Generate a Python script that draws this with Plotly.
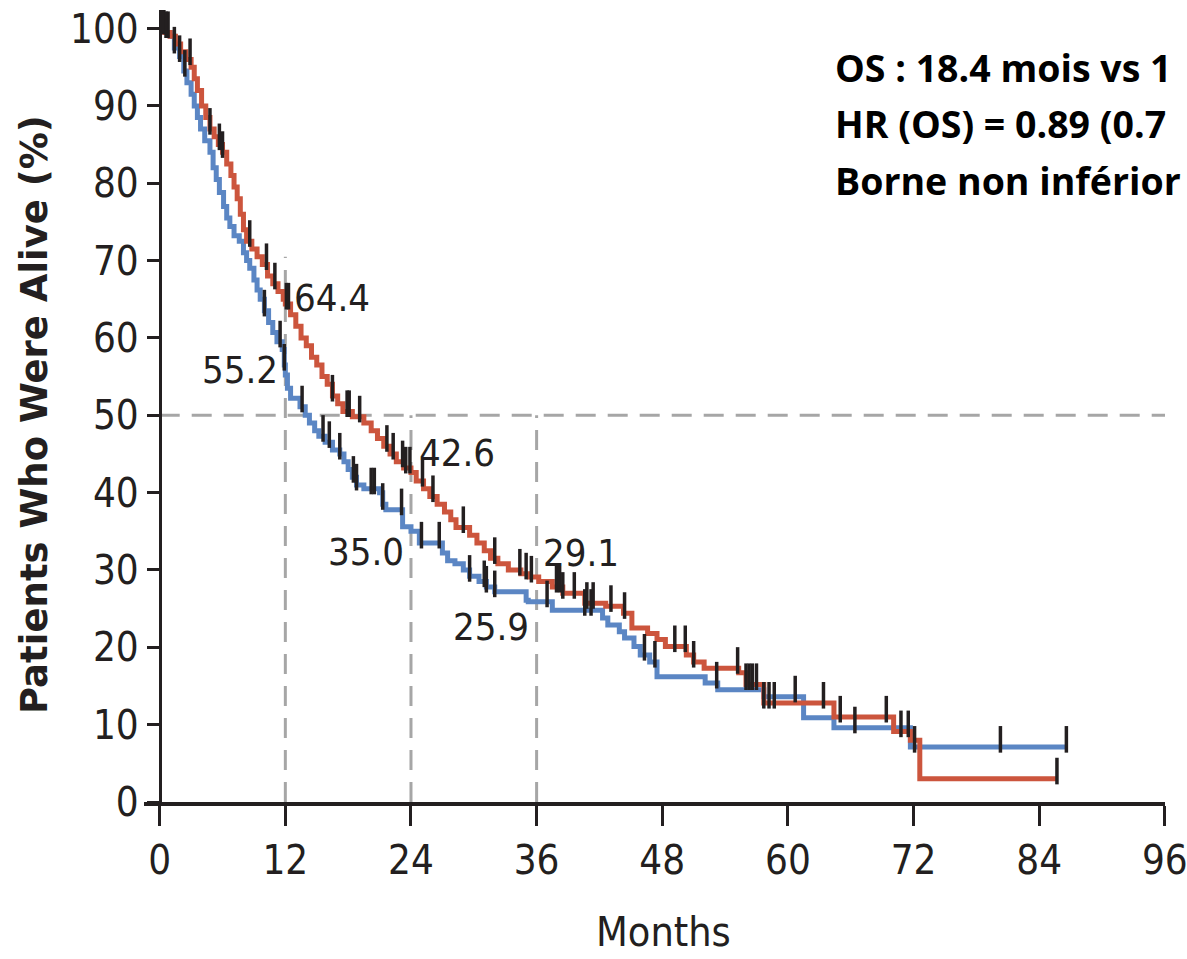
import numpy as np
import plotly.graph_objects as go

# ---------------- data ----------------
red_t = [0, 0.5, 1.0, 1.5, 2.0, 2.5, 3.0, 3.3, 3.6, 4.0, 4.4, 4.8, 5.2, 5.6, 6.0, 6.4, 6.8, 7.1, 7.4, 7.7,
         8.0, 8.3, 8.8, 9.3, 9.8, 10.3, 10.8, 11.3, 11.8, 12.0, 12.5, 13.0, 13.5, 14.0, 14.5, 15.0, 15.5,
         16.0, 16.5, 17.0, 17.5, 18.4, 19.5, 20.2, 20.8, 21.4, 22.0, 22.6, 23.3, 24.0, 24.5, 25.2, 25.8,
         26.5, 27.2, 27.8, 28.3, 29.6, 30.3, 31.0, 31.6, 32.3, 33.3, 34.5, 35.3, 36.2, 37.5, 38.5, 40.6,
         42.6, 44.3, 45.1, 46.6, 47.5, 48.3, 50.3, 51.0, 52.0, 55.3, 56.0, 57.7, 64.4, 70.1, 71.7, 72.6, 85.7]
red_s = [100, 99.5, 99, 98, 97, 96, 95, 93.5, 92, 90, 88.5, 87, 86, 85, 84, 82.5, 81, 79.5, 78, 76,
         74, 72.5, 71.5, 70.5, 69.5, 68, 67, 66, 65, 64.4, 63, 61.5, 60, 59, 57.5, 56.5, 55,
         54, 52.5, 51.5, 50.5, 49.8, 49, 48, 47, 46, 45, 44, 43.2, 42.6, 41.5, 40.5, 39.5,
         38.5, 37.5, 36.5, 35.5, 34.5, 33.5, 32.5, 31.5, 30.8, 30.0, 29.5, 29.1, 28.5, 27.8, 27.0, 25.7,
         25.3, 24.4, 22.5, 21.8, 21.0, 20.1, 19.0, 18.1, 17.3, 16.7, 15.2, 12.8, 11.0, 9.1, 8.0, 3.0, 3.0]

blue_t = [0, 0.5, 1.0, 1.4, 1.9, 2.3, 2.6, 3.0, 3.3, 3.6, 3.9, 4.3, 4.8, 5.1, 5.4, 5.7, 6.1, 6.4, 6.7, 7.1,
          7.6, 8.0, 8.3, 8.6, 9.0, 9.3, 9.6, 10.0, 10.4, 10.8, 11.2, 11.7, 11.9, 12.0, 12.2, 12.5, 13.4,
          13.9, 14.3, 14.8, 15.2, 15.8, 16.5, 17.2, 17.6, 18.0, 18.4, 18.8, 19.5, 21.0, 21.3, 21.6, 23.2,
          24.0, 24.8, 27.0, 27.5, 28.2, 29.0, 29.6, 30.5, 31.2, 32.0, 35.0, 35.2, 37.5, 42.3, 42.8, 43.9,
          44.4, 45.3, 45.9, 46.8, 47.5, 52.1, 53.3, 57.7, 61.5, 64.4, 71.7, 86.6]
blue_s = [100, 99.5, 99, 97.5, 96.4, 94.5, 93, 91.5, 90, 88.5, 87, 85.5, 84, 82, 80.5, 78.8, 77, 75.5, 74.4, 73.2,
          72.5, 71, 70, 69, 67.5, 66.2, 65, 63.5, 62, 60.7, 59.5, 58.5, 56.5, 55.2, 53.5, 52.2, 51.1,
          50, 49, 48, 47.3, 46.5, 45.5, 45, 44, 43, 42, 41, 40.5, 40, 38.5, 37.8, 35.6,
          35.0, 33.5, 32.2, 31.2, 30.8, 30.0, 29.2, 28.5, 27.8, 27.2, 26.1, 25.9, 24.8, 23.8, 22.9, 22.0,
          21.2, 20.1, 19.0, 18.1, 16.2, 15.4, 14.5, 13.6, 10.9, 9.6, 7.1, 7.1]

red_censor = [0.3, 0.6, 2.9, 4.8, 5.7, 6.0, 8.6, 10.2, 11.0, 12.1, 12.3, 16.5, 17.9, 18.1, 19.1, 21.7, 22.3,
              23.2, 23.5, 23.9, 25.1, 26.1, 29.0, 32.0, 34.4, 35.0, 35.5, 37.9, 38.2, 38.5, 39.6, 40.8, 41.4,
              43.1, 44.4, 49.2, 50.2, 51.0, 55.2, 56.0, 56.3, 56.6, 57.0, 57.7, 58.2, 58.7, 63.4, 65.0, 69.4,
              70.8, 71.5, 85.7]
blue_censor = [0.1, 0.4, 0.8, 1.4, 1.9, 2.4, 10.0, 11.5, 11.9, 13.6, 15.6, 16.2, 17.2, 18.5, 18.8, 20.2, 20.5,
               21.3, 23.1, 25.0, 26.7, 29.6, 31.0, 31.2, 32.0, 37.0, 40.6, 41.2, 46.3, 47.3, 53.2, 60.7, 66.4,
               72.1, 80.3, 86.6]

landmark_months = [12, 24, 36]
landmark_tops = [70.5, 50, 50]
median_level = 50

# label text, anchor month, anchor level
label_text = ["64.4", "55.2", "42.6", "35.0", "29.1", "25.9"]
label_x = [12.6, 11.5, 24.6, 23.5, 36.4, 35.5]
label_y = [65.2, 55.9, 45.1, 32.3, 32.2, 22.6]
label_anchor = ["left", "right", "left", "right", "left", "right"]

x_ticks = [0, 12, 24, 36, 48, 60, 72, 84, 96]
y_ticks = [0, 10, 20, 30, 40, 50, 60, 70, 80, 90, 100]

info_lines = ["OS : 18.4 mois vs 1", "HR (OS) = 0.89 (0.7", "Borne non inférior"]

RED = "#cc553d"
BLUE = "#5b86c4"
INK = "#231f20"
GREY = "#a6a6a6"
COND = "Liberation Sans Narrow, DejaVu Sans Condensed, Roboto Condensed, Arial Narrow, DejaVu Sans, sans-serif"


def step_at(ts, ss, t):
    i = np.searchsorted(np.array(ts), t, side="right") - 1
    return np.array(ss)[i]


fig = go.Figure()

# reference lines
fig.add_shape(type="line", xref="x", yref="y", x0=0, x1=96.4, y0=median_level, y1=median_level,
              line=dict(color=GREY, width=3, dash="20px,12px"), layer="below")
for m, top in zip(landmark_months, landmark_tops):
    fig.add_shape(type="line", xref="x", yref="y", x0=m, x1=m, y0=0, y1=top,
                  line=dict(color=GREY, width=3, dash="20px,12px"), layer="below")

fig.add_trace(go.Scatter(x=blue_t, y=blue_s, mode="lines", line=dict(color=BLUE, width=5, shape="hv"),
                         showlegend=False, hoverinfo="skip"))
fig.add_trace(go.Scatter(x=red_t, y=red_s, mode="lines", line=dict(color=RED, width=5, shape="hv"),
                         showlegend=False, hoverinfo="skip"))

for ts, ss, cs in [(blue_t, blue_s, blue_censor), (red_t, red_s, red_censor)]:
    cy = step_at(ts, ss, np.array(cs)) + 1.0
    fig.add_trace(go.Scatter(x=cs, y=cy, mode="markers",
                             marker=dict(symbol="line-ns-open", size=19, color=INK,
                                         line=dict(color=INK, width=3.5)),
                             showlegend=False, hoverinfo="skip"))

for t, x, y, a in zip(label_text, label_x, label_y, label_anchor):
    fig.add_annotation(x=x, y=y, xref="x", yref="y", text=t, showarrow=False, xanchor=a, yanchor="middle",
                       font=dict(family=COND, size=38, color=INK))

L, R = 144, 1165
T, B = 10, 802


def px2paper_x(px):
    return (px - L) / (R - L)


def py2paper_y(py):
    return (B - py) / (B - T)


# y title
fig.add_annotation(x=px2paper_x(34), y=py2paper_y(415), xref="paper", yref="paper",
                   text="Patients Who Were Alive (%)", textangle=-90, showarrow=False,
                   xanchor="center", yanchor="middle",
                   font=dict(family="DejaVu Sans", size=37, color=INK, weight="bold"))
# x title
fig.add_annotation(x=px2paper_x(663), y=py2paper_y(932), xref="paper", yref="paper",
                   text="Months", showarrow=False, xanchor="center", yanchor="middle",
                   font=dict(family=COND, size=41, color=INK))

for i, line in enumerate(info_lines):
    fig.add_annotation(x=px2paper_x(833), y=py2paper_y(68 + 56 * i), xref="paper", yref="paper",
                       text="<b>" + line + "</b>", showarrow=False, xanchor="left", yanchor="middle",
                       font=dict(family="Open Sans, Noto Sans, sans-serif", size=37.5, color="#000000"))

x0 = -1.5
fig.update_layout(
    width=1187, height=959,
    margin=dict(l=L, r=1187 - R, t=T, b=959 - B, pad=0, autoexpand=False),
    paper_bgcolor="white", plot_bgcolor="white",
    xaxis=dict(range=[x0, 96.02], tickvals=x_ticks, ticks="outside", ticklen=20, tickwidth=3, tickcolor=INK,
               showline=True, linecolor=INK, linewidth=4, showgrid=False, zeroline=False,
               ticklabeloverflow="allow", automargin=False,
               tickfont=dict(family=COND, size=40, color=INK), fixedrange=True),
    yaxis=dict(range=[0, 102.4], tickvals=y_ticks, ticks="outside", ticklen=12, tickwidth=3, tickcolor=INK,
               showline=True, linecolor=INK, linewidth=3, showgrid=False, zeroline=False,
               anchor="free", position=(0 - x0) / (96.02 - x0), automargin=False,
               tickfont=dict(family=COND, size=40, color=INK), fixedrange=True),
)

fig.write_html("out.html")
